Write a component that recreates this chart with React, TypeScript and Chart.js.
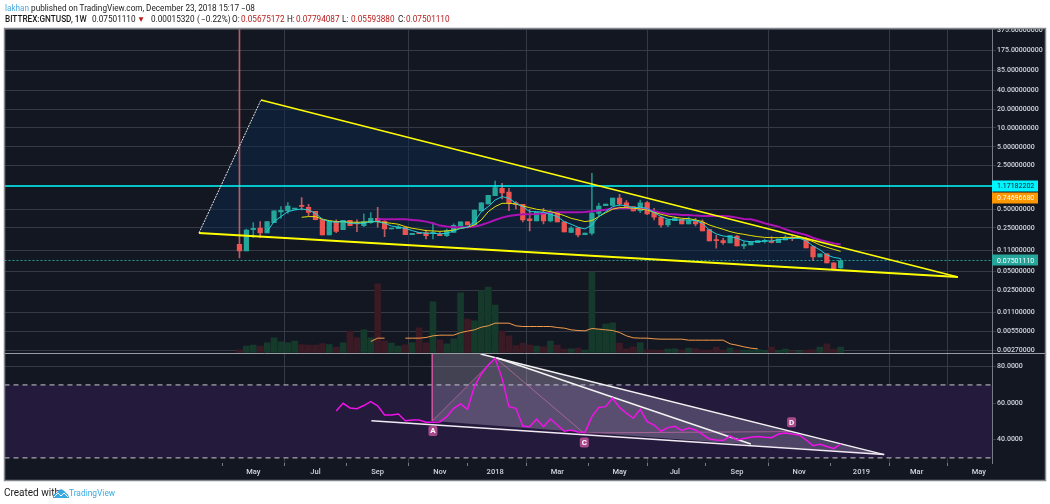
import React, { useEffect, useRef } from "react";
import { Chart, registerables } from "chart.js";

Chart.register(...registerables);

const opens = [0.136,0.107,0.234,0.249,0.207,0.304,0.450,0.467,0.50,0.568,0.534,0.461,0.339,0.192,0.315,0.234,0.331,0.304,0.272,0.304,0.356,0.319,0.240,0.243,0.256,0.195,0.205,0.210,0.205,0.197,0.188,0.212,0.268,0.312,0.278,0.467,0.604,0.822,1.078,0.940,0.628,0.597,0.348,0.323,0.444,0.323,0.428,0.312,0.212,0.249,0.195,0.205,0.428,0.568,0.575,0.754,0.628,0.548,0.473,0.636,0.444,0.374,0.278,0.327,0.344,0.289,0.315,0.308,0.234,0.162,0.156,0.143,0.185,0.128,0.133,0.145,0.152,0.152,0.145,0.160,0.174,0.170,0.170,0.125,0.0854,0.0955,0.0685,0.05675172];
const highs = [380,0.240,0.304,0.315,0.315,0.467,0.548,0.636,0.51,0.767,0.597,0.461,0.348,0.315,0.335,0.331,0.331,0.335,0.418,0.439,0.534,0.327,0.246,0.278,0.262,0.205,0.205,0.231,0.308,0.215,0.240,0.289,0.312,0.312,0.484,0.628,0.832,1.41,1.296,1.078,0.658,0.597,0.497,0.444,0.515,0.484,0.455,0.312,0.262,0.256,0.207,1.875,0.619,0.604,0.754,0.860,0.685,0.548,0.700,0.658,0.515,0.388,0.344,0.379,0.344,0.374,0.356,0.335,0.234,0.190,0.170,0.188,0.190,0.150,0.148,0.156,0.166,0.181,0.166,0.190,0.185,0.174,0.176,0.128,0.0955,0.0955,0.0685,0.07794087];
const lows = [0.0824,0.107,0.174,0.174,0.207,0.304,0.356,0.428,0.495,0.484,0.388,0.335,0.192,0.192,0.210,0.234,0.272,0.218,0.262,0.296,0.256,0.181,0.240,0.243,0.195,0.195,0.202,0.166,0.166,0.188,0.181,0.212,0.268,0.278,0.278,0.467,0.604,0.822,0.729,0.473,0.503,0.312,0.223,0.323,0.289,0.312,0.312,0.215,0.210,0.179,0.195,0.192,0.388,0.568,0.575,0.561,0.515,0.467,0.439,0.408,0.335,0.256,0.262,0.327,0.289,0.289,0.268,0.223,0.154,0.118,0.136,0.143,0.128,0.116,0.133,0.145,0.143,0.143,0.145,0.160,0.156,0.170,0.119,0.0747,0.0854,0.0685,0.0542,0.05593880];
const closes = [0.107,0.231,0.246,0.207,0.315,0.467,0.479,0.561,0.505,0.554,0.444,0.339,0.192,0.315,0.220,0.331,0.272,0.289,0.315,0.356,0.315,0.240,0.246,0.259,0.195,0.205,0.202,0.188,0.210,0.188,0.226,0.275,0.312,0.278,0.484,0.628,0.832,1.103,0.908,0.628,0.589,0.335,0.327,0.444,0.323,0.428,0.312,0.215,0.249,0.192,0.207,0.433,0.561,0.604,0.754,0.604,0.548,0.467,0.628,0.418,0.370,0.278,0.335,0.356,0.289,0.327,0.289,0.223,0.154,0.156,0.145,0.188,0.128,0.136,0.148,0.156,0.158,0.146,0.166,0.172,0.168,0.174,0.119,0.0854,0.0955,0.0685,0.0542,0.07501110];

const volumes = [8,19,22,19,29,44,32,29,34,24,22,22,27,24,16,29,64,45,68,44,206,35,28,19,23,29,74,29,152,38,26,41,179,100,95,186,196,142,64,50,21,28,22,19,17,34,22,10,11,13,7,241,72,85,89,28,11,17,29,8,7,7,10,11,7,13,12,7,7,16,7,13,7,7,7,9,6,16,6,10,5,5,7,8,16,26,10,16];

const fastAverageStart = 4;
const fastAverage = [0.218,0.315,0.379,0.455,0.484,0.503,0.484,0.428,0.344,0.315,0.308,0.315,0.296,0.296,0.296,0.315,0.315,0.296,0.268,0.256,0.246,0.226,0.210,0.205,0.205,0.200,0.205,0.223,0.246,0.256,0.315,0.455,0.548,0.700,0.792,0.745,0.619,0.548,0.455,0.455,0.444,0.413,0.379,0.315,0.286,0.256,0.240,0.278,0.379,0.455,0.548,0.582,0.568,0.528,0.534,0.515,0.439,0.379,0.344,0.335,0.335,0.335,0.327,0.296,0.231,0.200,0.185,0.181,0.170,0.154,0.150,0.150,0.154,0.154,0.162,0.166,0.170,0.170,0.156,0.128,0.111,0.092,0.084,0.0805];

const midAverageStart = 9;
const midAverage = [0.370,0.379,0.379,0.344,0.327,0.315,0.315,0.308,0.308,0.308,0.315,0.315,0.304,0.296,0.286,0.262,0.246,0.237,0.226,0.223,0.220,0.223,0.231,0.246,0.256,0.278,0.335,0.455,0.548,0.619,0.619,0.604,0.561,0.528,0.497,0.479,0.455,0.428,0.393,0.356,0.335,0.315,0.327,0.379,0.439,0.497,0.528,0.528,0.515,0.503,0.484,0.444,0.413,0.388,0.370,0.356,0.352,0.335,0.315,0.278,0.256,0.237,0.218,0.205,0.197,0.188,0.181,0.176,0.174,0.174,0.176,0.176,0.174,0.166,0.150,0.133,0.122,0.113,0.105];

const slowAverageStart = 20;
const slowAverage = [0.344,0.344,0.344,0.344,0.344,0.335,0.327,0.315,0.296,0.272,0.262,0.256,0.256,0.256,0.262,0.278,0.304,0.335,0.365,0.388,0.402,0.413,0.413,0.418,0.428,0.439,0.444,0.444,0.444,0.444,0.450,0.461,0.473,0.490,0.509,0.515,0.515,0.515,0.509,0.497,0.461,0.439,0.418,0.413,0.402,0.402,0.393,0.388,0.388,0.388,0.388,0.379,0.365,0.348,0.344,0.323,0.296,0.278,0.262,0.237,0.218,0.205,0.192,0.174,0.160,0.150,0.141,0.135];

const volumeAverageStart = 19;
const volumeAverage = [33,43,43,null,null,43,43,43,45,50,52,52,52,60,64,68,76,80,88,88,88,80,78,78,78,78,78,75,73,68,66,65,72,70,68,66,60,50,44,43,43,41,40,40,40,40,37,37,37,37,37,37,26,22,17,13,11];

const rsiStart = 14;
const rsiValues = [55.7,59.9,57.4,57.0,58.7,60.8,58.5,53.5,53.5,54.1,50.4,50.8,50.8,49.5,49.5,49.7,52.6,57.2,59.6,56.6,69.1,76.0,80.9,84.6,73.6,58.1,57.2,47.5,47.1,51.2,47.1,51.3,48.0,44.6,45.3,44.2,44.0,52.6,57.7,58.1,62.7,57.7,54.5,51.7,56.6,49.9,48.0,44.6,46.6,47.3,45.1,46.4,45.3,42.9,40.4,39.8,39.5,42.0,39.8,40.6,41.3,41.7,41.3,41.1,43.1,43.7,43.1,42.6,39.8,36.7,37.5,36.2,35.1,37.5];

const priceTicks = [375,175,85,40,20,10,5,2.5,0.5,0.25,0.11,0.05,0.025,0.011,0.0055,0.0027];
const rsiTicks = [80,60,40];
const monthWeeks = [2,11,20,29,37,46,55,63,72,81,90,98,107];
const monthLabels = ["May","Jul","Sep","Nov","2018","Mar","May","Jul","Sep","Nov","2019","Mar","May"];
const monthHasGrid = [false,true,false,true,false,true,false,true,false,true,false,true,true];

const wedgeWeeks = [-5.86,3.11,103.96];
const wedgePrices = [0.207,28.1,0.0407];
const resistancePrice = 1.17182202;
const lastPrice = 0.07501110;
const xMin = -34.0;
const xMax = 108.9;
const rsiUpper = 70;
const rsiLower = 30;

const patternWeeks = { X: 27.9, A: 27.9, B: 37.06, C: 49.8, D: 79.8 };
const patternRsi = { X: 87.5, A: 50.2, B: 84.8, C: 43.7, D: 44.4 };
const rsiBaseLine = [{ x: 19.09, y: 50.4 }, { x: 93.3, y: 31.8 }];
const rsiTopOuter = [{ x: 34.9, y: 87.0 }, { x: 93.3, y: 31.8 }];
const rsiTopInner = [{ x: 37.3, y: 84.8 }, { x: 74.0, y: 37.6 }];
const patternLabels = [
  { text: "A", week: 28.0, rsi: 44.8 },
  { text: "C", week: 49.9, rsi: 38.4 },
  { text: "D", week: 79.9, rsi: 49.5 },
];
const priceTags = [
  { value: 1.17182202, bg: "#00f5ff", fg: "#131722" },
  { value: 0.7469668, bg: "#ff9800", fg: "#ffffff" },
  { value: 0.0750111, bg: "#26a69a", fg: "#ffffff" },
];

const GREEN = "#26a69a";
const RED = "#ef5350";
const GRID = "#363a47";
const AXIS = "#787b86";
const BG = "#131722";
const FONT = "Roboto, 'Open Sans', sans-serif";
const LABEL = "#d1d4dc";

const series = (start: number, values: (number | null)[]) =>
  values.map((y, k) => ({ x: start + k, y }));

const isUp = (i: number) => closes[i] >= opens[i];

const panePlugin = {
  id: "pane",
  beforeDraw(chart: any) {
    const { ctx } = chart;
    ctx.save();
    ctx.fillStyle = "#ffffff";
    ctx.fillRect(0, 0, chart.width, chart.height);
    ctx.fillStyle = BG;
    ctx.fillRect(4, 28, 1042, 453);
    ctx.restore();
  },
  afterDraw(chart: any) {
    const { ctx } = chart;
    const area = chart.chartArea;
    const price = chart.scales.y;
    const x = chart.scales.x;
    const rsi = chart.scales.yRsi;
    ctx.save();
    ctx.font = `7px ${FONT}`;
    ctx.textBaseline = "middle";
    ctx.textAlign = "left";
    for (const t of priceTags) {
      const py = price.getPixelForValue(t.value);
      ctx.fillStyle = t.bg;
      ctx.fillRect(area.right, Math.round(py) - 5.5, 46, 11);
      ctx.fillStyle = t.fg;
      ctx.fillText(t.value.toFixed(8), area.right + 5, py + 0.5);
    }
    ctx.font = `bold 8px ${FONT}`;
    ctx.textAlign = "center";
    for (const l of patternLabels) {
      const px = x.getPixelForValue(l.week);
      const py = rsi.getPixelForValue(l.rsi);
      ctx.fillStyle = "#a94a8c";
      ctx.beginPath();
      ctx.roundRect(px - 4.5, py - 5, 9, 10, 2);
      ctx.fill();
      ctx.fillStyle = "#ffffff";
      ctx.fillText(l.text, px, py + 0.5);
    }
    ctx.strokeStyle = "#9a9ca3";
    ctx.lineWidth = 1;
    ctx.beginPath();
    ctx.moveTo(4, price.bottom + 0.5);
    ctx.lineTo(1045, price.bottom + 0.5);
    ctx.stroke();
    ctx.fillStyle = "#ffffff";
    ctx.fillRect(0, 0, chart.width, 28);
    ctx.strokeStyle = "#84878c";
    ctx.lineWidth = 1.5;
    ctx.strokeRect(4.5, 28.5, 1041, 452);
    ctx.restore();
  },
};

export default function App() {
  const ref = useRef<HTMLCanvasElement>(null);
  useEffect(() => {
    const weeks = opens.map((_, i) => i);
    const line = (extra: any) => ({
      type: "line",
      pointRadius: 0,
      fill: false,
      tension: 0,
      yAxisID: "y",
      xAxisID: "x",
      ...extra,
    });
    const chart = new Chart(ref.current as HTMLCanvasElement, {
      data: {
        datasets: [
          line({ order: 50, data: wedgeWeeks.map((x, k) => ({ x, y: wedgePrices[k] })), fill: "shape", backgroundColor: "rgba(12,40,72,0.5)", borderWidth: 0 }),
          { type: "bar", order: 40, yAxisID: "yVolume", xAxisID: "x", barThickness: 6, grouped: false,
            data: weeks.map((i) => ({ x: i, y: volumes[i] })),
            backgroundColor: (c: any) => (isUp(c.dataIndex) ? "#153a2c" : "#3a1a24") },
          line({ order: 39, yAxisID: "yVolume", data: series(volumeAverageStart, volumeAverage), borderColor: "#f2994a", borderWidth: 1, spanGaps: false }),
          line({ order: 30, data: [{ x: xMin, y: lastPrice }, { x: xMax, y: lastPrice }], borderColor: GREEN, borderWidth: 1, borderDash: [2, 2] }),
          { type: "bar", order: 20, yAxisID: "y", xAxisID: "x", barThickness: 1, grouped: false,
            data: weeks.map((i) => ({ x: i, y: [lows[i], highs[i]] })),
            backgroundColor: (c: any) => (isUp(c.dataIndex) ? "rgba(38,166,154,0.8)" : "rgba(226,110,110,0.8)") },
          { type: "bar", order: 19, yAxisID: "y", xAxisID: "x", barThickness: 4.6, grouped: false, minBarLength: 1,
            data: weeks.map((i) => ({ x: i, y: [opens[i], closes[i]] })),
            backgroundColor: (c: any) => (isUp(c.dataIndex) ? GREEN : RED) },
          line({ order: 12, data: series(slowAverageStart, slowAverage), borderColor: "#ad12b4", borderWidth: 2 }),
          line({ order: 11, data: series(midAverageStart, midAverage), borderColor: "#e6e000", borderWidth: 1 }),
          line({ order: 10, data: series(fastAverageStart, fastAverage), borderColor: "#1fd0dc", borderWidth: 1 }),
          line({ order: 5, data: [{ x: xMin, y: resistancePrice }, { x: xMax, y: resistancePrice }], borderColor: "#00ffff", borderWidth: 1.5 }),
          line({ order: 4, data: [{ x: wedgeWeeks[1], y: wedgePrices[1] }, { x: wedgeWeeks[2], y: wedgePrices[2] }], borderColor: "#ffff00", borderWidth: 1.5 }),
          line({ order: 3, data: [{ x: wedgeWeeks[0], y: wedgePrices[0] }, { x: wedgeWeeks[2], y: wedgePrices[2] }], borderColor: "#ffff00", borderWidth: 2 }),
          line({ order: 3, data: [{ x: wedgeWeeks[0], y: wedgePrices[0] }, { x: wedgeWeeks[1], y: wedgePrices[1] }], borderColor: "#e8e8e8", borderWidth: 1, borderDash: [2, 1] }),

          line({ order: 60, yAxisID: "yRsi", data: [{ x: xMin, y: rsiUpper }, { x: xMax, y: rsiUpper }], fill: { value: rsiLower }, backgroundColor: "#231a3c", borderWidth: 0 }),
          line({ order: 29, yAxisID: "yRsi", data: [{ x: xMin, y: rsiUpper }, { x: xMax, y: rsiUpper }], borderColor: "#c9c9d2", borderWidth: 1, borderDash: [5, 4] }),
          line({ order: 29, yAxisID: "yRsi", data: [{ x: xMin, y: rsiLower }, { x: xMax, y: rsiLower }], borderColor: "#c9c9d2", borderWidth: 1, borderDash: [5, 4] }),
          line({ order: 28, yAxisID: "yRsi", fill: "shape", backgroundColor: "rgba(195,185,215,0.27)", borderWidth: 0,
            data: [{ x: patternWeeks.X, y: patternRsi.X }, rsiTopOuter[0], rsiTopOuter[1], { x: patternWeeks.A, y: patternRsi.A }] }),
          line({ order: 27, yAxisID: "yRsi", fill: "shape", backgroundColor: "rgba(195,165,215,0.1)", borderWidth: 0,
            data: [{ x: patternWeeks.A, y: patternRsi.A }, { x: patternWeeks.B, y: patternRsi.B }, rsiTopInner[1], rsiBaseLine[1]] }),
          line({ order: 9, yAxisID: "yRsi", borderColor: "#c8559a", borderWidth: 1,
            data: [{ x: patternWeeks.X, y: patternRsi.X }, { x: patternWeeks.A, y: patternRsi.A }] }),
          line({ order: 8, yAxisID: "yRsi", borderColor: "rgba(205,110,170,0.65)", borderWidth: 1,
            data: (["A", "B", "C", "D"] as const).map((k) => ({ x: patternWeeks[k], y: patternRsi[k] })) }),
          line({ order: 7, yAxisID: "yRsi", data: rsiBaseLine, borderColor: "#f4eaf4", borderWidth: 1.5 }),
          line({ order: 7, yAxisID: "yRsi", data: rsiTopOuter, borderColor: "#f4f4f4", borderWidth: 1.5 }),
          line({ order: 7, yAxisID: "yRsi", data: rsiTopInner, borderColor: "#f4f4f4", borderWidth: 1.5 }),
          line({ order: 6, yAxisID: "yRsi", data: series(rsiStart, rsiValues), borderColor: "#f012e8", borderWidth: 1.5 }),
        ] as any,
      },
      options: {
        responsive: false,
        animation: false,
        layout: { padding: { left: 4.5, top: 29, right: 5, bottom: 24 } },
        plugins: { legend: { display: false }, tooltip: { enabled: false } },
        scales: {
          x: {
            type: "linear",
            min: xMin,
            max: xMax,
            offset: false,
            grid: {
              color: (c: any) => (monthHasGrid[monthWeeks.indexOf(c.tick?.value)] ? GRID : "rgba(0,0,0,0)"),
              tickColor: AXIS,
              tickLength: 3,
            },
            border: { display: false },
            afterBuildTicks: (s: any) => { s.ticks = monthWeeks.map((value) => ({ value })); },
            afterFit: (s: any) => { s.height = 17; },
            ticks: {
              autoSkip: false,
              maxRotation: 0,
              padding: 2,
              color: LABEL,
              font: { family: FONT, size: 7.5, weight: "500" },
              callback: (v: any) => monthLabels[monthWeeks.indexOf(Number(v))],
            },
          },
          y: {
            type: "logarithmic",
            position: "right",
            stack: "panes",
            stackWeight: 324,
            min: 0.00246,
            max: 387,
            grid: { color: GRID, tickColor: GRID, tickLength: 4 },
            border: { color: AXIS },
            afterBuildTicks: (s: any) => { s.ticks = priceTicks.map((value) => ({ value })); },
            afterFit: (s: any) => { s.width = 53; },
            ticks: {
              autoSkip: false,
              padding: 1,
              color: LABEL,
              font: { family: FONT, size: 7, weight: "500" },
              callback: (v: any) => Number(v).toFixed(8),
            },
          },
          yRsi: {
            type: "linear",
            position: "right",
            stack: "panes",
            stackWeight: 110,
            min: 27.2,
            max: 87.5,
            grid: { color: GRID, tickColor: GRID, tickLength: 4 },
            border: { color: AXIS },
            afterBuildTicks: (s: any) => { s.ticks = rsiTicks.map((value) => ({ value })); },
            afterFit: (s: any) => { s.width = 53; },
            ticks: {
              autoSkip: false,
              padding: 1,
              color: LABEL,
              font: { family: FONT, size: 7, weight: "500" },
              callback: (v: any) => Number(v).toFixed(4),
            },
          },
          yVolume: {
            type: "linear",
            display: false,
            position: "right",
            min: -331.5,
            max: 970.5,
          },
        },
      } as any,
      plugins: [panePlugin] as any,
    });
    return () => chart.destroy();
  }, []);

  const text: React.CSSProperties = {
    position: "absolute",
    whiteSpace: "nowrap",
    fontFamily: FONT,
    fontSize: 8.2,
    lineHeight: "12px",
    color: "#1a1a1a",
  };
  const red = "#b71c1c";
  const second: [number, string, string?][] = [
    [5, "BITTREX:GNTUSD, 1W"],
    [92, "0.07501110"],
    [137, "▼", red],
    [151, "0.00015320"],
    [197, "("],
    [201, "−0.22%)"],
    [232, "O:"],
    [241, "0.05675172", red],
    [287, "H:"],
    [296, "0.07794087", red],
    [342, "L:"],
    [351, "0.05593880", red],
    [398, "C:"],
    [406, "0.07501110", red],
  ];
  return (
    <div style={{ position: "absolute", left: 0, top: 0, width: 1050, height: 504, background: "#fff", overflow: "hidden" }}>
      <canvas ref={ref} width={1050} height={504} style={{ position: "absolute", left: 0, top: 0 }} />
      <div style={{ ...text, left: 5, top: 2 }}>
        <span style={{ color: "#4aa8dc" }}>lakhan</span> published on TradingView.com, December 23, 2018 15:17 −08
      </div>
      {second.map(([left, label, color], k) => (
        <span key={k} style={{ ...text, left, top: 13, color: color ?? "#1a1a1a", fontWeight: k === 0 ? 500 : 400 }}>{label}</span>
      ))}
      <div style={{ ...text, left: 4, top: 487, fontSize: 10 }}>Created with</div>
      <svg width="16" height="10" viewBox="0 0 16 10" style={{ position: "absolute", left: 53, top: 488 }}>
        <path d="M0 10 C0 6 2 5 4 5 C5 2 8 0 10 2 C12 3 13 5 13 5 C15 6 16 8 16 10 Z" fill="#3aa9df" />
        <path d="M1 9 L5 5 L8 8 L11 5 L15 9" fill="none" stroke="#ffffff" strokeWidth="1" />
      </svg>
      <div style={{ ...text, left: 69, top: 487, fontSize: 8.4, color: "#3aa9df" }}>TradingView</div>
    </div>
  );
}
